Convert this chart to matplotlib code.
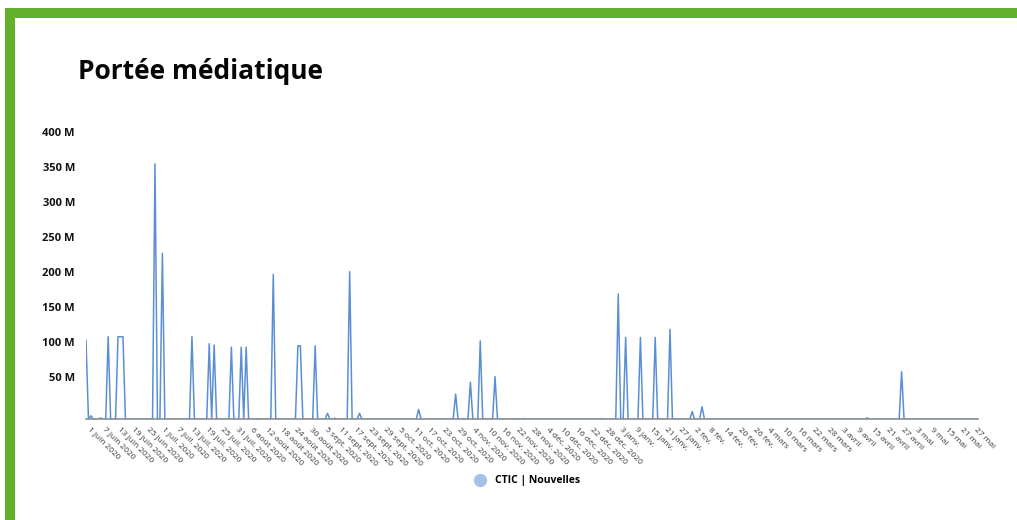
# ============================================================================
# LIBRARY IMPORTS
# ============================================================================
import pandas as pd
import matplotlib.pyplot as plt
from matplotlib.lines import Line2D
from matplotlib.patches import Rectangle

plt.rcParams['font.family'] = ['Open Sans', 'DejaVu Sans']

# ============================================================================
# DATA (daily media reach, in millions; days not listed are 0)
# ============================================================================
start_date = '2020-05-30'
end_date = '2021-05-27'

peak_dates = [
    '2020-05-30', '2020-06-01', '2020-06-05', '2020-06-08',
    '2020-06-12', '2020-06-13', '2020-06-14',
    '2020-06-27', '2020-06-30', '2020-07-12', '2020-07-19', '2020-07-21',
    '2020-07-28', '2020-08-01', '2020-08-03', '2020-08-08', '2020-08-14',
    '2020-08-24', '2020-08-25', '2020-08-31', '2020-09-05', '2020-09-08',
    '2020-09-14', '2020-09-18', '2020-10-12', '2020-10-27', '2020-11-02',
    '2020-11-06', '2020-11-12', '2020-11-20', '2020-11-24', '2020-12-25',
    '2021-01-01', '2021-01-04', '2021-01-10', '2021-01-16', '2021-01-22',
    '2021-01-31', '2021-02-04', '2021-04-12', '2021-04-26',
]
peak_values = [
    113, 5, 2, 118,
    118, 118, 118,
    365, 237, 118, 108, 106,
    103, 103, 103, 1, 207,
    105, 105, 105, 8.5, 1.5,
    211, 8.5, 14, 36, 53,
    112, 61, 1, 1, 1,
    179, 117, 117, 117, 128.5,
    11, 18, 2, 68,
]

y_ticks = [50, 100, 150, 200, 250, 300, 350, 400]
y_tick_labels = ['50 M', '100 M', '150 M', '200 M', '250 M', '300 M', '350 M', '400 M']

tick_start = '2020-06-01'
tick_step_days = 6
month_names = {6: 'juin', 7: 'juil.', 8: 'août', 9: 'sept.', 10: 'oct.',
               11: 'nov.', 12: 'déc.', 1: 'janv.', 2: 'fév.', 3: 'mars',
               4: 'avril', 5: 'mai'}

series_name = 'CTIC | Nouvelles'

# ============================================================================
# DATA PREPARATION
# ============================================================================
days = pd.date_range(start_date, end_date, freq='D')
reach = pd.Series(0.0, index=days)
reach.loc[pd.to_datetime(peak_dates)] = peak_values

tick_dates = pd.date_range(tick_start, end_date, freq=f'{tick_step_days}D')
tick_labels = []
for d in tick_dates:
    label = f'{d.day} {month_names[d.month]}'
    if d.year == 2020:
        label += ' 2020'
    tick_labels.append(label)

# ============================================================================
# CHART
# ============================================================================
fig = plt.figure(figsize=(10.17, 5.2), dpi=100)
fig.patch.set_facecolor('white')

# green frame
fig.patches.append(Rectangle((10 / 1017, -2 / 520), 1009 / 1017, 509 / 520,
                             transform=fig.transFigure, fill=False,
                             edgecolor='#62b02b', linewidth=7.2))

fig.text(78 / 1017, 1 - 79 / 520, 'Portée médiatique', fontsize=19,
         fontweight='bold', color='#050505', va='baseline', ha='left')

ax = fig.add_axes([86 / 1017, 100.7 / 520, 892 / 1017, 287 / 520])
ax.plot(reach.index, reach.values, color='#5b8fd5', linewidth=1.1)

ax.set_xlim(days[0], days[-1])
ax.set_ylim(0, 410)

for side in ['top', 'right', 'left']:
    ax.spines[side].set_visible(False)
ax.spines['bottom'].set_color('#8a8f95')
ax.spines['bottom'].set_linewidth(1.2)

ax.set_yticks(y_ticks)
ax.set_yticklabels(y_tick_labels, fontsize=8, fontweight='bold', color='#111111')
for lbl in ax.get_yticklabels():
    lbl.set_va('bottom')
ax.tick_params(axis='y', length=0, pad=8)

ax.set_xticks(tick_dates)
ax.set_xticklabels(tick_labels, fontsize=6, color='#3a3a3a',
                   rotation=-45, ha='left', va='top', rotation_mode='anchor')
ax.tick_params(axis='x', length=0, pad=5)

handle = Line2D([], [], linestyle='none', marker='o', markersize=8.5,
                markerfacecolor='#a3c2e8', markeredgecolor='#a3c2e8')
leg = fig.legend([handle], [series_name], loc='center',
                 bbox_to_anchor=(525 / 1017, 1 - 481 / 520), frameon=False,
                 handletextpad=0.4, prop={'size': 7.5, 'weight': 'bold'})

# ============================================================================
# SAVE
# ============================================================================
fig.savefig('out.png', dpi=100, facecolor='white')
